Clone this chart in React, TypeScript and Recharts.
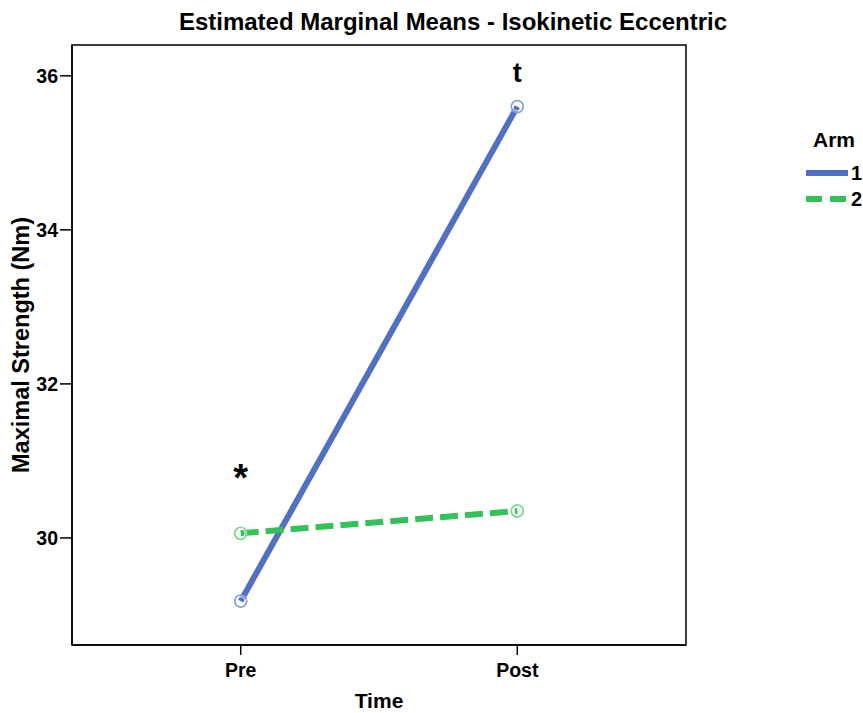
import React from 'react'
import { LineChart, Line, XAxis, YAxis, ReferenceArea, ReferenceDot } from 'recharts'

// Estimated marginal means, isokinetic eccentric strength (Nm)
const times = ['Pre', 'Post']
const arm1 = [29.18, 35.6]
const arm2 = [30.06, 30.35]
const yTicks = [30, 32, 34, 36]

const BLUE = '#5270c2'
const GREEN = '#34c159'
const FONT = 'Arial, "Liberation Sans", Helvetica, sans-serif'

const X_DOMAIN: [number, number] = [-0.61, 1.61]
const Y_DOMAIN: [number, number] = [28.61, 36.4]

const data = times.map((t, i) => ({ x: i, time: t, arm1: arm1[i], arm2: arm2[i] }))

type VB = { x: number; y: number; width: number; height: number }

function Marker({ cx, cy, stroke }: { cx?: number; cy?: number; stroke?: string }) {
  if (cx == null || cy == null) return null
  return (
    <g>
      <circle cx={cx} cy={cy} r={6} fill="none" stroke={stroke} strokeWidth={1.8} />
      <circle cx={cx} cy={cy} r={4.3} fill="none" stroke="#fff" strokeWidth={1} />
    </g>
  )
}

function Note(text: string, dy: number, size: number) {
  return ({ cx, cy }: { cx?: number; cy?: number }) => (
    <text x={cx} y={(cy ?? 0) + dy} textAnchor="middle" fontFamily={FONT} fontWeight="bold" fontSize={size} fill="#000">
      {text}
    </text>
  )
}

function YTitle({ viewBox }: { viewBox?: VB }) {
  if (!viewBox) return null
  const x = viewBox.x + 13
  const y = viewBox.y + viewBox.height / 2
  return (
    <text x={x} y={y} transform={`rotate(-90 ${x} ${y})`} textAnchor="middle" dominantBaseline="central"
      fontFamily={FONT} fontWeight="bold" fontSize={23.5} fill="#000">
      Maximal Strength (Nm)
    </text>
  )
}

function XTitle({ viewBox }: { viewBox?: VB }) {
  if (!viewBox) return null
  return (
    <text x={viewBox.x + viewBox.width / 2} y={viewBox.y + 63} textAnchor="middle"
      fontFamily={FONT} fontWeight="bold" fontSize={21} fill="#000">
      Time
    </text>
  )
}

// legend drawn beside the plot, outside recharts' layout
function ArmLegend() {
  return (
    <svg width={67} height={90} style={{ position: 'absolute', left: 796, top: 124, fontFamily: FONT, fontWeight: 'bold' }}>
      <text x={38} y={23} textAnchor="middle" fontSize={21}>Arm</text>
      <line x1={10} x2={52} y1={49} y2={49} stroke={BLUE} strokeWidth={6} />
      <text x={55} y={56} fontSize={20}>1</text>
      <line x1={10} x2={52} y1={75} y2={75} stroke={GREEN} strokeWidth={6} strokeDasharray="16 8" />
      <text x={55} y={82} fontSize={20}>2</text>
    </svg>
  )
}

export default function App() {
  const tickStyle = { fontSize: 19.5, fontWeight: 'bold' as const, fill: '#000', fontFamily: FONT }
  const axisStroke = { stroke: '#000', strokeWidth: 1.5 }
  return (
    <div style={{ width: 863, height: 713, position: 'relative' }}>
      <style>{'html, body { margin: 0; padding: 0; overflow: hidden; }'}</style>
      <div
        style={{
          position: 'absolute', top: 10, left: 153, width: 600, textAlign: 'center', whiteSpace: 'nowrap',
          fontFamily: FONT, fontWeight: 'bold', fontSize: 24, lineHeight: '24px', zIndex: 1,
        }}
      >
        Estimated Marginal Means - Isokinetic Eccentric
      </div>
      <LineChart width={863} height={713} data={data} margin={{ top: 45, right: 177, bottom: 8, left: 8 }}>
        <ReferenceArea
          x1={X_DOMAIN[0]} x2={X_DOMAIN[1]} y1={Y_DOMAIN[0]} y2={Y_DOMAIN[1]}
          fill="#fff" fillOpacity={0} stroke="#000" strokeWidth={1.5}
        />
        <XAxis
          dataKey="x" type="number" domain={X_DOMAIN} ticks={[0, 1]} allowDataOverflow
          tickFormatter={(v: number) => times[v]}
          tick={tickStyle} tickSize={10} tickMargin={8} height={60}
          axisLine={axisStroke} tickLine={axisStroke}
          label={<XTitle />}
        />
        <YAxis
          type="number" domain={Y_DOMAIN} ticks={yTicks} allowDataOverflow
          tick={tickStyle} tickSize={12} tickMargin={2} width={64}
          axisLine={axisStroke} tickLine={axisStroke}
          label={<YTitle />}
        />
        <Line dataKey="arm1" name="1" stroke={BLUE} strokeWidth={6} isAnimationActive={false}
          dot={<Marker stroke="#8da0dc" />} activeDot={false} />
        <Line dataKey="arm2" name="2" stroke={GREEN} strokeWidth={6} strokeDasharray="18 7" isAnimationActive={false}
          dot={<Marker stroke="#7ed894" />} activeDot={false} />
        <ReferenceDot x={0} y={arm2[0]} r={0} shape={Note('*', -42, 38)} />
        <ReferenceDot x={1} y={arm1[1]} r={0} shape={Note('t', -25, 27)} />
      </LineChart>
      <ArmLegend />
    </div>
  )
}
